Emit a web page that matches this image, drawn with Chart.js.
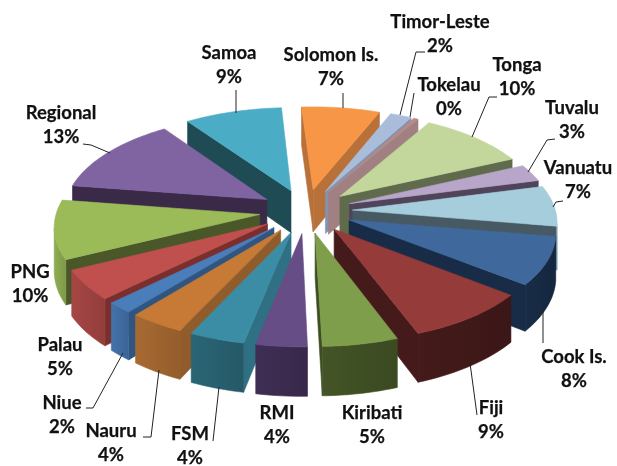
<!DOCTYPE html>
<html><head><meta charset="utf-8">
<style>html,body{margin:0;padding:0;background:#fff}canvas{display:block}</style>
<script src="https://cdn.jsdelivr.net/npm/chart.js@4"></script>
</head><body><canvas id="c" width="617" height="466"></canvas>
<script>
const categories=["Solomon Is.","Timor-Leste","Tokelau","Tonga","Tuvalu","Vanuatu","Cook Is.","Fiji","Kiribati","RMI","FSM","Nauru","Niue","Palau","PNG","Regional","Samoa"];
const shares=[6.9,1.9,0.4,9.6,2.8,6.6,7.8,8.6,5.2,3.5,3.8,3.8,1.8,4.9,9.6,12.7,8.6];
const topColors=["#F79646","#A9BCDA","#B58A88","#C3D69B","#B7A6C9","#A5CDDB","#3F689C","#953B39","#7F9E4B","#664D86","#3A8DA5","#C67A36","#4A7EBB","#C0504D","#9BBB59","#8064A2","#4BACC6"];
const cutColors=["#B9713A","#8194AE","#A08080","#5F6B4C","#4F4459","#475963","#182C47","#441A1A","#3F4E22","#392A4A","#2F7085","#915C2B","#2F5580","#7A2E2D","#4A5728","#3A2A48","#1F4B55"];
const rimColors=["#B9713A","#8194AE","#A08080","#5F6B4C","#4F4459","#A5CDDB","#182C47","#441A1A","#435426","#3F2E54","#2A6575","#A86A32","#4372AB","#A64644","#8FAD52","#6E5690","#3E90A6"];
const labelAnchors=[[331,55],[440,22],[449,85],[517,65],[572,108],[578,168],[574,357],[491,408],[372,413],[277,413],[190,434],[111,431],[62,403],[60,345],[30,272],[61,113],[229,53]];
const leaders=[[[343,93],[343,108]],[[425,52],[416,52],[400,115]],[[414,93],[410,117]],[[497,97],[489,97],[472,137]],[[555,139],[547,140],[528,172]],[[563,201],[556,202],[553,207]],[[543,307],[543,343]],[[470,363],[477,415]],[],[],[[219,387],[213,441]],[[159,370],[151,437],[143,437]],[[123,353],[93,408],[86,408]],[],[],[[83,144],[91,145],[110,153]],[[236,90],[236,113]]];

const CX=306,CY=211,AX=203,BY=96,K=0.107,DEPTH=43;
function project(X,Y,down){
  const s=1/(1-K*Y);
  return [CX+AX*X*s, CY+BY*Y*s+(down?DEPTH*s:0)];
}
function poly(ctx,pts,color){
  ctx.beginPath();
  pts.forEach((p,i)=>i?ctx.lineTo(p[0],p[1]):ctx.moveTo(p[0],p[1]));
  ctx.closePath();
  ctx.fillStyle=color;ctx.strokeStyle=color;ctx.lineWidth=0.6;
  ctx.fill();ctx.stroke();
}
const pie3d={
  id:'pie3d',
  beforeDatasetsDraw(chart){
    const ctx=chart.ctx;
    const meta=chart.getDatasetMeta(0);
    const items=meta.data.map((arc,i)=>{
      const p=arc.getProps(['startAngle','endAngle','outerRadius']);
      const mid=(p.startAngle+p.endAngle)/2;
      const off=arc.options.offset/p.outerRadius;
      return {i,a0:p.startAngle,a1:p.endAngle,mid,ox:Math.cos(mid)*off,oy:Math.sin(mid)*off};
    }).sort((u,v)=>Math.sin(u.mid)-Math.sin(v.mid));
    for(const s of items){
      const n=Math.max(2,Math.ceil((s.a1-s.a0)/0.03));
      const ring=[];
      for(let j=0;j<=n;j++){const t=s.a0+(s.a1-s.a0)*j/n;ring.push([s.ox+Math.cos(t),s.oy+Math.sin(t)]);}
      const apex=[s.ox,s.oy];
      const path=[apex,...ring];
      const edge=(a,b,color)=>{
        const pa=project(a[0],a[1]),pb=project(b[0],b[1]);
        if(pb[0]<pa[0]) poly(ctx,[pa,pb,project(b[0],b[1],true),project(a[0],a[1],true)],color);
      };
      edge(apex,ring[0],cutColors[s.i]);
      edge(ring[n],apex,cutColors[s.i]);
      // outer rim: one polygon per visible run of the ring
      let run=[];
      const flush=()=>{
        if(run.length>1){
          const up=run.map(q=>project(q[0],q[1]));
          const dn=run.map(q=>project(q[0],q[1],true)).reverse();
          poly(ctx,up.concat(dn),rimColors[s.i]);
          const xs=up.map(q=>q[0]);
          const g=ctx.createLinearGradient(Math.min(...xs),0,Math.max(...xs),0);
          g.addColorStop(0,'rgba(0,0,0,0)');g.addColorStop(1,'rgba(0,0,0,0.12)');
          ctx.beginPath();
          up.concat(dn).forEach((p,k)=>k?ctx.lineTo(p[0],p[1]):ctx.moveTo(p[0],p[1]));
          ctx.closePath();ctx.fillStyle=g;ctx.fill();
        }
        run=[];
      };
      for(let j=0;j<n;j++){
        const pa=project(ring[j][0],ring[j][1]),pb=project(ring[j+1][0],ring[j+1][1]);
        if(pb[0]<pa[0]){ if(!run.length) run.push(ring[j]); run.push(ring[j+1]); }
        else flush();
      }
      flush();
      poly(ctx,path.map(q=>project(q[0],q[1])),topColors[s.i]);
    }
    return false;
  },
  afterDraw(chart){
    const ctx=chart.ctx;
    const total=shares.reduce((a,b)=>a+b,0);
    ctx.save();
    ctx.strokeStyle='#222';ctx.lineWidth=1;
    leaders.forEach(l=>{
      if(!l.length)return;
      ctx.beginPath();
      l.forEach((p,i)=>i?ctx.lineTo(p[0],p[1]):ctx.moveTo(p[0],p[1]));
      ctx.stroke();
    });
    ctx.fillStyle='#111';ctx.strokeStyle='#111';ctx.lineWidth=0.25;ctx.textAlign='center';ctx.textBaseline='middle';
    ctx.font='bold 18.5px Lato';
    const put=(t,x,y)=>{ctx.fillText(t,x,y);ctx.strokeText(t,x,y);};
    categories.forEach((c,i)=>{
      const [x,y]=labelAnchors[i];
      put(c,x,y);
      put(Math.round(shares[i]/total*100)+'%',x,y+24.5);
    });
    ctx.restore();
  }
};
new Chart(document.getElementById('c'),{
  type:'pie',
  data:{labels:categories,datasets:[{data:shares,backgroundColor:topColors,borderWidth:0,offset:48,hoverOffset:0}]},
  options:{responsive:false,animation:false,rotation:-3.5,
    plugins:{legend:{display:false},tooltip:{enabled:false},title:{display:false}}},
  plugins:[pie3d]
});
</script></body></html>
